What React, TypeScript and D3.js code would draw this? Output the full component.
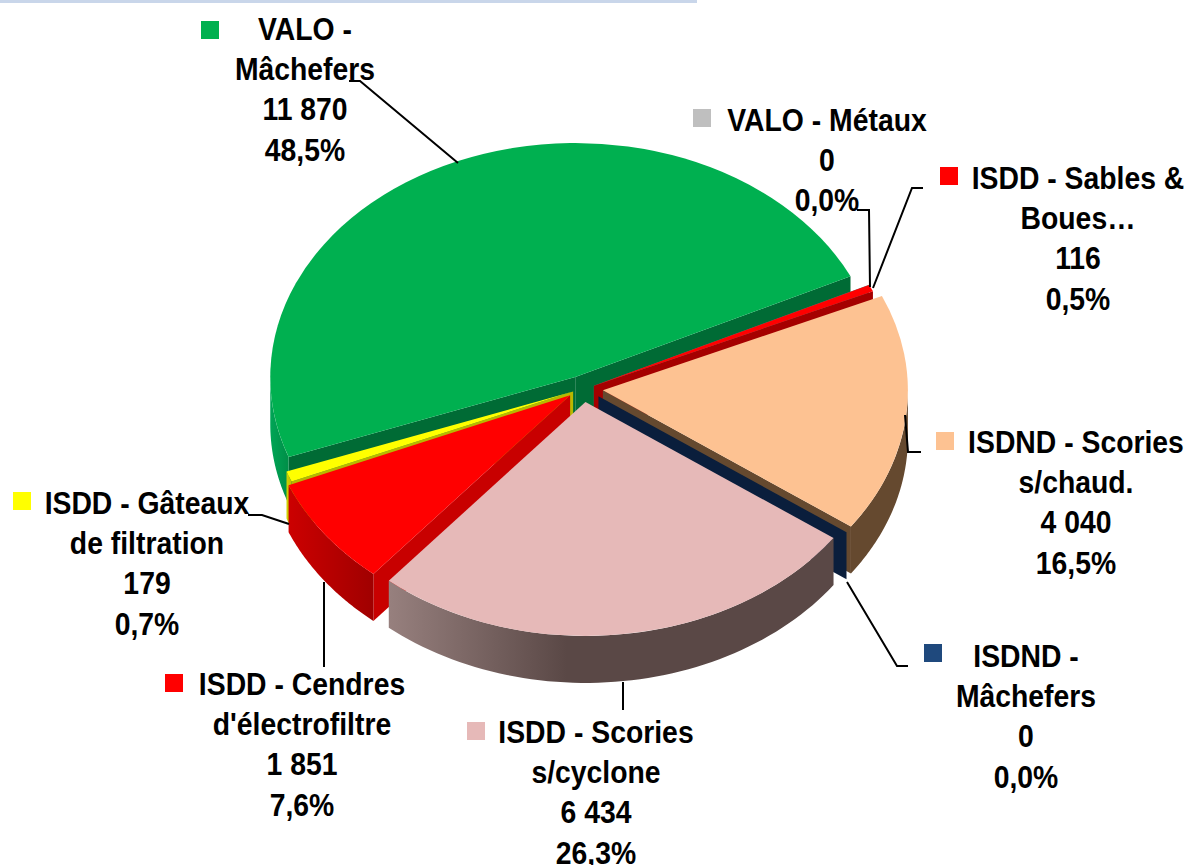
import * as d3 from 'd3';

const WIDTH = 1189;
const HEIGHT = 865;

// slices, in chart order (clockwise)
const categoryLines = [
    ['VALO -', 'Mâchefers'],
    ['VALO - Métaux'],
    ['ISDD - Sables &', 'Boues…'],
    ['ISDND - Scories', 's/chaud.'],
    ['ISDND -', 'Mâchefers'],
    ['ISDD - Scories', 's/cyclone'],
    ['ISDD - Cendres', "d'électrofiltre"],
    ['ISDD - Gâteaux', 'de filtration'],
];
const values = [11870, 0, 116, 4040, 0, 6434, 1851, 179];

const topColors = ['#00B050', '#BFBFBF', '#FF0000', '#FDC292', '#1F497D', '#E6B9B8', '#FF0000', '#FFFF00'];
const faceColors = ['#006B35', '#6B6B6B', '#A50000', '#65492F', '#0A1E3C', '#5C4948', '#C80000', '#B8B800'];
const wallFrom = ['#00A556', '#777777', '#C00000', '#65492F', '#0A1E3C', '#97807E', '#CC0000', '#D0D000'];
const wallTo = ['#008E47', '#777777', '#A00000', '#65492F', '#0A1E3C', '#5A4846', '#A00000', '#C0C000'];
const wallStop = [1, 1, 1, 1, 1, 0.4, 1, 1];
const explode = [1, 0.6, 0.6, 1, 0.95, 1, 0.8, 0.53];

// back slices first, so the front ones cover them
const drawOrder = [0, 1, 2, 3, 4, 7, 6, 5];

// chart layout
const CX = 583;
const CY = 389;
const RX = 305;
const RY = 234;
const DEPTH = 47;
const EXPLODE_X = 20;
const EXPLODE_Y = 13;
const START_ANGLE = (-110 * Math.PI) / 180;
const LINE_GAP = 40.2;
const TEXT_SQUEEZE = 0.886;
const SWATCH = 18;

const labelCenters = [
    [305, 40], [827, 131], [1078, 189], [1076, 453],
    [1026, 667], [596, 743], [302, 695], [147, 514],
];
const swatches = [
    [201, 21], [693, 109], [940, 167], [936, 432],
    [924, 644], [467, 722], [165, 674], [13, 492],
];
const leaders = [
    [[349, 81], [360, 81], [458, 163]],
    [[857, 210], [869, 210], [870, 287]],
    [[923, 188], [912, 188], [873, 288]],
    [[905, 415], [908, 452], [921, 452]],
    [[847, 582], [897, 666], [908, 666]],
    [[623, 682], [623, 710]],
    [[324, 582], [324, 667]],
    [[248, 515], [262, 515], [289, 524]],
];

const frLocale = d3.formatLocale({
    decimal: ',',
    thousands: ' ',
    grouping: [3],
    currency: ['', ''],
});
const formatValue = frLocale.format(',d');
const formatPercent = frLocale.format('.1%');

const total = d3.sum(values);
const pie = d3
    .pie<number>()
    .sort(null)
    .startAngle(START_ANGLE)
    .endAngle(START_ANGLE + 2 * Math.PI);
const arcs = pie(values);
const arc = d3.arc<d3.PieArcDatum<number>>().innerRadius(0).outerRadius(RX);
const line = d3.line();

function sliceOrigin(i: number): [number, number] {
    const mid = (arcs[i].startAngle + arcs[i].endAngle) / 2;
    return [
        CX + explode[i] * EXPLODE_X * Math.sin(mid),
        CY - explode[i] * EXPLODE_Y * Math.cos(mid),
    ];
}

function rim(origin: [number, number], angle: number, drop = 0): [number, number] {
    return [origin[0] + RX * Math.sin(angle), origin[1] - RY * Math.cos(angle) + drop];
}

function facePath(origin: [number, number], angle: number) {
    const outer = rim(origin, angle);
    return line([
        origin,
        outer,
        [outer[0], outer[1] + DEPTH],
        [origin[0], origin[1] + DEPTH],
    ]) + 'Z';
}

// the curved wall only shows on the front half of the ellipse
function wallPath(origin: [number, number], a0: number, a1: number) {
    const ranges = [
        [Math.PI / 2, (3 * Math.PI) / 2],
        [-(3 * Math.PI) / 2, -Math.PI / 2],
    ];
    let out = '';
    for (const [lo, hi] of ranges) {
        const from = Math.max(a0, lo);
        const to = Math.min(a1, hi);
        if (to <= from) continue;
        const steps = d3.range(0, 61).map((k) => from + ((to - from) * k) / 60);
        const top = steps.map((a) => rim(origin, a));
        const bottom = steps.map((a) => rim(origin, a, DEPTH)).reverse();
        out += line([...top, ...bottom]) + 'Z';
    }
    return out;
}

function Slice({ i }: { i: number }) {
    const d = arcs[i];
    const origin = sliceOrigin(i);
    const showStart = -Math.sin(d.startAngle) > 0;
    const showEnd = Math.sin(d.endAngle) > 0;
    return (
        <g>
            {showStart && <path d={facePath(origin, d.startAngle)} fill={faceColors[i]} />}
            {showEnd && <path d={facePath(origin, d.endAngle)} fill={faceColors[i]} />}
            {d.endAngle > d.startAngle && (
                <>
                    <path d={wallPath(origin, d.startAngle, d.endAngle)} fill={`url(#wall${i})`} />
                    <path
                        d={arc(d) ?? ''}
                        fill={topColors[i]}
                        transform={`translate(${origin[0]},${origin[1]}) scale(1,${RY / RX})`}
                    />
                </>
            )}
        </g>
    );
}

function Label({ i }: { i: number }) {
    const [x, y] = labelCenters[i];
    const rows = [
        ...categoryLines[i],
        formatValue(values[i]),
        formatPercent(values[i] / total),
    ];
    return (
        <g>
            <rect x={swatches[i][0]} y={swatches[i][1]} width={SWATCH} height={SWATCH} fill={topColors[i]} />
            {rows.map((row, k) => (
                <text
                    key={k}
                    transform={`translate(${x},${y + k * LINE_GAP}) scale(${TEXT_SQUEEZE},1)`}
                    textAnchor="middle"
                >
                    {row}
                </text>
            ))}
        </g>
    );
}

export default function App() {
    return (
        <svg
            width={WIDTH}
            height={HEIGHT}
            viewBox={`0 0 ${WIDTH} ${HEIGHT}`}
            style={{ position: 'absolute', left: 0, top: 0, display: 'block', background: '#fff' }}
            fontFamily="'Liberation Sans', Arial, sans-serif"
            fontWeight="bold"
            fontSize={32}
            fill="#000"
        >
            <defs>
                {values.map((_, i) => (
                    <linearGradient key={i} id={`wall${i}`} x1="0" x2="1" y1="0" y2="0">
                        <stop offset="0" stopColor={wallFrom[i]} />
                        <stop offset={wallStop[i]} stopColor={wallTo[i]} />
                    </linearGradient>
                ))}
            </defs>
            <rect x={0} y={0} width={697} height={3} fill="#C9D6EA" />
            {drawOrder.map((i) => (
                <Slice key={i} i={i} />
            ))}
            {leaders.map((pts, i) => (
                <path
                    key={i}
                    d={line(pts as [number, number][]) ?? ''}
                    fill="none"
                    stroke="#000"
                    strokeWidth={2}
                />
            ))}
            {values.map((_, i) => (
                <Label key={i} i={i} />
            ))}
        </svg>
    );
}
